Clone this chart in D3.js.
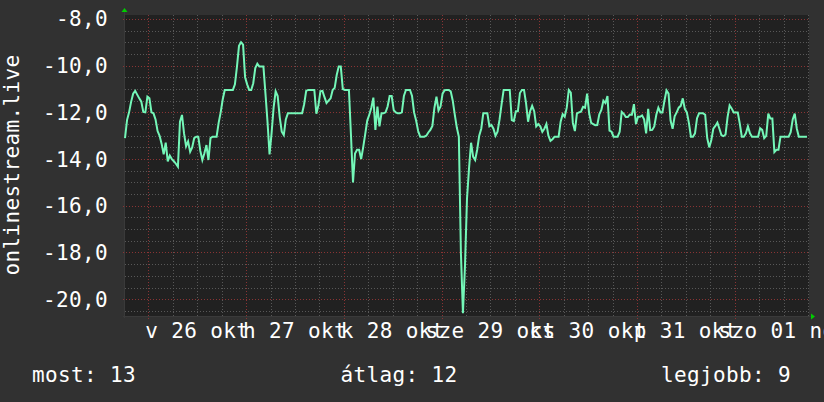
<!DOCTYPE html>
<html><head><meta charset="utf-8">
<script src="https://cdn.jsdelivr.net/npm/d3@7"></script>
<style>
html,body{margin:0;padding:0;background:#313131;}
svg{display:block;}
text{font-family:"DejaVu Sans Mono",monospace;fill:#ffffff;font-size:21px;letter-spacing:0.36px;}
</style></head>
<body>
<script>
// ---- data ----
const startTime = Date.UTC(2014, 9, 25, 18, 15);   // left edge of plot
const endTime   = Date.UTC(2014, 10, 1, 18, 15);   // right edge of plot
const stepMinutes = 30;
const values = [
-13.1,-12.33,-12.0,-11.55,-11.2,-11.08,-11.24,-11.4,-11.54,-11.98,
-12.0,-11.33,-11.4,-12.0,-12.04,-12.3,-12.8,-13.0,-13.35,-13.8,
-13.3,-14.1,-13.85,-14.0,-14.09,-14.2,-14.33,-12.4,-12.11,-12.9,
-13.45,-13.24,-13.69,-13.5,-13.1,-13.04,-13.04,-13.65,-14.04,-13.75,
-13.4,-14.04,-13.1,-13.04,-13.04,-13.04,-12.45,-12.0,-11.45,-11.04,
-11.04,-11.04,-11.04,-11.04,-10.8,-10.04,-9.15,-9.0,-9.1,-10.5,
-10.8,-11.04,-11.04,-10.75,-10.1,-9.92,-10.04,-10.04,-10.04,-11.2,
-12.4,-13.8,-12.9,-11.8,-11.1,-11.3,-12.2,-12.83,-12.97,-12.3,
-12.04,-12.04,-12.04,-12.04,-12.04,-12.04,-12.04,-12.04,-11.65,-11.08,
-11.04,-11.04,-11.04,-11.04,-12.06,-11.7,-11.1,-11.08,-11.35,-11.6,
-11.5,-11.4,-11.04,-10.95,-10.4,-10.04,-10.04,-11.0,-11.04,-11.04,
-11.04,-12.97,-15.0,-13.76,-13.6,-13.6,-14.0,-13.5,-12.93,-12.35,
-12.1,-11.8,-11.37,-12.75,-11.75,-12.6,-12.04,-12.04,-12.0,-11.75,
-11.3,-11.3,-11.9,-12.0,-12.04,-12.04,-12.0,-11.3,-11.04,-11.04,
-11.04,-11.3,-12.0,-12.35,-12.8,-13.04,-13.04,-13.04,-13.0,-12.86,
-12.75,-12.58,-11.8,-11.33,-11.92,-11.75,-11.2,-11.05,-11.04,-11.04,
-11.1,-11.5,-12.1,-12.65,-13.05,-18.0,-20.6,-18.6,-15.7,-14.4,
-13.3,-13.9,-14.04,-13.6,-13.0,-12.7,-12.04,-12.04,-12.04,-12.6,
-12.54,-12.7,-13.0,-12.83,-12.3,-11.65,-11.04,-11.04,-11.04,-11.04,
-12.33,-12.37,-11.95,-11.95,-11.17,-11.04,-11.04,-11.6,-12.4,-11.95,
-11.72,-11.95,-12.6,-12.5,-12.6,-12.83,-12.7,-12.5,-13.0,-13.22,
-13.15,-13.04,-13.04,-13.04,-12.4,-12.08,-12.19,-11.8,-11.04,-11.15,
-12.45,-12.8,-12.04,-12.0,-11.97,-11.76,-11.8,-11.2,-12.04,-12.45,
-12.5,-12.55,-12.54,-12.08,-11.9,-11.5,-11.6,-11.3,-12.78,-12.83,
-13.04,-13.04,-13.04,-12.83,-11.98,-12.06,-12.2,-12.2,-12.09,-12.1,
-11.65,-12.5,-12.19,-12.19,-12.13,-12.3,-12.9,-11.85,-12.76,-12.75,
-12.6,-12.1,-11.8,-12.0,-12.0,-11.5,-11.06,-11.2,-12.35,-12.7,
-12.17,-12.0,-11.8,-11.72,-11.4,-11.85,-12.0,-12.45,-13.04,-13.04,
-12.9,-12.25,-12.04,-12.04,-12.04,-12.1,-13.1,-13.5,-13.2,-12.7,
-12.58,-12.44,-12.7,-12.98,-13.02,-12.95,-12.2,-11.7,-11.83,-12.0,
-12.0,-12.0,-12.48,-13.04,-13.04,-12.9,-12.6,-12.9,-13.04,-13.04,
-13.04,-13.04,-12.68,-12.75,-13.1,-13.0,-12.05,-12.26,-12.26,-13.7,
-13.6,-13.6,-13.04,-13.04,-13.04,-13.04,-13.04,-12.85,-12.3,-12.05,
-12.69,-13.04,-13.04,-13.04,-13.04,-13.04
];
const yTicks = [-8, -10, -12, -14, -16, -18, -20];
const dayLabels = ["v 26 okt", "h 27 okt", "k 28 okt", "sze 29 okt", "cs 30 okt", "p 31 okt", "szo 01 nov"];
const dayNoons = [26, 27, 28, 29, 30, 31, 32].map(d => Date.UTC(2014, 9, d, 12, 0));
const yTitle = "onlinestream.live";
const legendNames = ["most", "átlag", "legjobb"];
const legendValues = [13, 12, 9];

// ---- layout ----
const W = 824, H = 402;
const L = 125, R = 809, T = 15, B = 316;
const svg = d3.select("body").append("svg").attr("width", W).attr("height", H);
svg.append("rect").attr("width", W).attr("height", H).attr("fill", "#313131");
svg.append("rect").attr("x", L).attr("y", T).attr("width", R - L).attr("height", B - T).attr("fill", "#212121");

const x = d3.scaleUtc().domain([new Date(startTime), new Date(endTime)]).range([L, R]);
const y = d3.scaleLinear().domain([-20.72, -7.83]).range([B, T]);

const g = svg.append("g");
// minor horizontal grid
const minorY = d3.range(-20.5, -7.9, 0.5).filter(v => Math.abs(v / 2 - Math.round(v / 2)) > 1e-6);
g.selectAll(".hmin").data(minorY).join("line")
  .attr("x1", L).attr("x2", R).attr("y1", d => Math.round(y(d)) + 0.5).attr("y2", d => Math.round(y(d)) + 0.5)
  .attr("stroke", "#585858").attr("stroke-dasharray", "1,2");
// vertical grid
const sixH = d3.utcHour.every(6).range(new Date(startTime - 3600e3), new Date(endTime));
const minorX = sixH.filter(d => d.getUTCHours() !== 0);
const majorX = sixH.filter(d => d.getUTCHours() === 0);
g.selectAll(".vmin").data(minorX).join("line")
  .attr("x1", d => Math.round(x(d)) + 0.5).attr("x2", d => Math.round(x(d)) + 0.5)
  .attr("y1", T).attr("y2", B + 2)
  .attr("stroke", "#585858").attr("stroke-dasharray", "1,2");
// major grid
g.selectAll(".hmaj").data(yTicks).join("line")
  .attr("x1", L - 2).attr("x2", R).attr("y1", d => Math.round(y(d)) + 0.5).attr("y2", d => Math.round(y(d)) + 0.5)
  .attr("stroke", "#8a3434").attr("stroke-dasharray", "1,2");
g.selectAll(".vmaj").data(majorX).join("line")
  .attr("x1", d => Math.round(x(d)) + 0.5).attr("x2", d => Math.round(x(d)) + 0.5)
  .attr("y1", T).attr("y2", B + 3)
  .attr("stroke", "#8a3434").attr("stroke-dasharray", "1,2");
// axis lines
svg.append("line").attr("x1", L - 2).attr("x2", R + 2).attr("y1", B + 0.5).attr("y2", B + 0.5).attr("stroke", "#3a3a3a");
svg.append("line").attr("x1", L - 0.5).attr("x2", L - 0.5).attr("y1", T - 3).attr("y2", B + 2).attr("stroke", "#3a3a3a");

// arrows
svg.append("path").attr("d", `M${L - 3.5},${T - 3} L${L + 2.5},${T - 3} L${L - 0.5},${T - 7} Z`).attr("fill", "#00cc00");
svg.append("path").attr("d", `M${R + 2},${B - 2.5} L${R + 2},${B + 3.5} L${R + 6},${B + 0.5} Z`).attr("fill", "#00cc00");

// data line
const pts = values.map((v, i) => [new Date(startTime + i * stepMinutes * 60e3), v]);
const line = d3.line().x(d => x(d[0])).y(d => y(d[1]));
svg.append("path").datum(pts).attr("d", line)
  .attr("fill", "none").attr("stroke", "#74f7b8").attr("stroke-width", 2).attr("stroke-linejoin", "miter");

// y tick labels
const fmt = d3.format(".1f");
svg.selectAll(".yl").data(yTicks).join("text")
  .attr("x", 108).attr("y", d => y(d) + 7.5).attr("text-anchor", "end")
  .text(d => fmt(d).replace(".", ",").replace("−", "-"));
// x tick labels
svg.selectAll(".xl").data(dayLabels).join("text")
  .attr("x", (d, i) => x(new Date(dayNoons[i]))).attr("y", 338).attr("text-anchor", "middle")
  .text(d => d);
// y title
svg.append("text").attr("transform", "translate(18.5,165) rotate(-90)").attr("text-anchor", "middle")
  .text(yTitle);
// legend
const legX = [32, 399, 791], legA = ["start", "middle", "end"];
svg.selectAll(".lg").data(legendNames).join("text")
  .attr("x", (d, i) => legX[i]).attr("y", 382).attr("text-anchor", (d, i) => legA[i])
  .text((d, i) => d + ": " + legendValues[i]);
</script>
</body></html>
